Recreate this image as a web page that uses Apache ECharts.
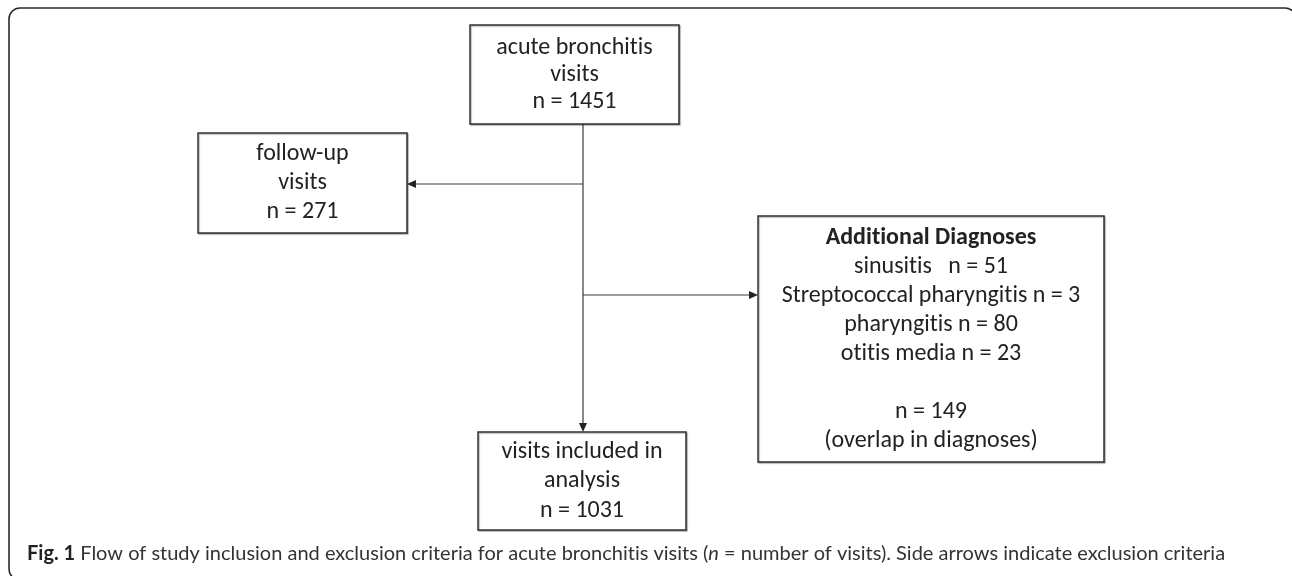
<!DOCTYPE html>
<html>
<head>
<meta charset="utf-8">
<script src="https://cdn.jsdelivr.net/npm/echarts@6/dist/echarts.min.js"></script>
<style>
html,body{margin:0;padding:0;background:#fff;}
#c{width:1292px;height:576px;}
</style>
</head>
<body>
<div id="c"></div>
<script>
// ---- data ----
const nodeTitles = ['acute bronchitis\nvisits', 'follow-up\nvisits', 'visits included in\nanalysis'];
const nodeCounts = [1451, 271, 1031];
const diagnosisHeader = 'Additional Diagnoses';
const diagnosisNames = ['sinusitis   ', 'Streptococcal pharyngitis ', 'pharyngitis ', 'otitis media '];
const diagnosisCounts = [51, 3, 80, 23];
const excludedTotal = 149;
const excludedNote = '(overlap in diagnoses)';
const captionBold = 'Fig. 1';
const captionParts = [' Flow of study inclusion and exclusion criteria for acute bronchitis visits (', 'n', ' = number of visits). Side arrows indicate exclusion criteria'];

// ---- layout (pixel space of the hidden axes) ----
const boxLayout = [
  [470, 25, 679, 124],
  [198, 133, 407, 233],
  [478, 432, 686, 530],
  [758, 216, 1104, 462]
];
const boxLineHeights = [27, 29, 29.5, 29];
const arrowLayout = [
  [583, 124, 583, 432],
  [583, 184, 407, 184],
  [583, 295, 758, 295]
];

// disable optional ligatures (reference font shows separate "t" "i")
(function () {
  const P = CanvasRenderingContext2D.prototype;
  const ft = P.fillText, mt = P.measureText;
  P.fillText = function () { try { this.textRendering = 'optimizeSpeed'; } catch (e) {} return ft.apply(this, arguments); };
  P.measureText = function () { try { this.textRendering = 'optimizeSpeed'; } catch (e) {} return mt.apply(this, arguments); };
})();

const boxTexts = nodeTitles.map((t, i) => t + '\nn = ' + nodeCounts[i]);
const diagLines = diagnosisNames.map((n, i) => n + 'n = ' + diagnosisCounts[i]);
boxTexts.push('{h|' + diagnosisHeader + '}\n' + diagLines.join('\n') + '\n\nn = ' + excludedTotal + '\n' + excludedNote);

const FONT = 'Carlito, Lato, sans-serif';
const FS = 24;
const chart = echarts.init(document.getElementById('c'), null, { renderer: 'canvas' });
chart.setOption({
  animation: false,
  grid: { left: 0, right: 0, top: 0, bottom: 0 },
  xAxis: { type: 'value', min: 0, max: 1292, show: false },
  yAxis: { type: 'value', min: 0, max: 576, inverse: true, show: false },
  graphic: [
    {
      type: 'rect', shape: { x: 9, y: 8, width: 1287, height: 572, r: 11 },
      style: { fill: 'none', stroke: '#2a2a2a', lineWidth: 1.6 }, z: 1
    },
    {
      type: 'text', x: 27, y: 554,
      style: {
        verticalAlign: 'middle',
        rich: {
          b: { fontFamily: 'Lato', fontWeight: 'bold', fontSize: 20, fill: '#222' },
          t: { fontFamily: 'Lato', fontSize: 20, fill: '#333' },
          i: { fontFamily: 'Lato', fontStyle: 'italic', fontSize: 20, fill: '#333' }
        },
        text: '{b|' + captionBold + '}{t|' + captionParts[0] + '}{i|' + captionParts[1] + '}{t|' + captionParts[2] + '}'
      }
    }
  ],
  series: [
    {
      type: 'custom',
      coordinateSystem: 'cartesian2d',
      data: arrowLayout,
      encode: { x: [0, 2], y: [1, 3] },
      renderItem: function (params, api) {
        const a = api.coord([api.value(0), api.value(1)]);
        const b = api.coord([api.value(2), api.value(3)]);
        const dx = b[0] - a[0], dy = b[1] - a[1];
        const len = Math.sqrt(dx * dx + dy * dy);
        const ux = dx / len, uy = dy / len;
        const L = 9, W = 4;
        const base = [b[0] - ux * L, b[1] - uy * L];
        return {
          type: 'group',
          children: [
            { type: 'line', shape: { x1: a[0], y1: a[1], x2: base[0], y2: base[1] }, style: { stroke: '#3a3a3a', lineWidth: 1.2 } },
            { type: 'polygon', shape: { points: [b, [base[0] - uy * W, base[1] + ux * W], [base[0] + uy * W, base[1] - ux * W]] }, style: { fill: '#222' } }
          ]
        };
      },
      z: 2
    },
    {
      type: 'custom',
      coordinateSystem: 'cartesian2d',
      data: boxLayout,
      encode: { x: [0, 2], y: [1, 3] },
      renderItem: function (params, api) {
        const i = params.dataIndex;
        const p1 = api.coord([api.value(0), api.value(1)]);
        const p2 = api.coord([api.value(2), api.value(3)]);
        const lh = boxLineHeights[i];
        return {
          type: 'group',
          children: [
            {
              type: 'rect',
              shape: { x: p1[0], y: p1[1], width: p2[0] - p1[0], height: p2[1] - p1[1] },
              style: { fill: '#fff', stroke: '#333', lineWidth: 1.5, shadowColor: 'rgba(0,0,0,0.3)', shadowOffsetX: 1, shadowOffsetY: 1, shadowBlur: 1 }
            },
            {
              type: 'text',
              x: (p1[0] + p2[0]) / 2,
              y: (p1[1] + p2[1]) / 2,
              style: {
                text: boxTexts[i],
                fontFamily: FONT,
                fontSize: FS,
                lineHeight: lh,
                fill: '#222',
                align: 'center',
                verticalAlign: 'middle',
                rich: { h: { fontFamily: FONT, fontSize: FS, fontWeight: 'bold', lineHeight: lh, fill: '#222' } }
              }
            }
          ]
        };
      },
      z: 3
    }
  ]
});
</script>
</body>
</html>
